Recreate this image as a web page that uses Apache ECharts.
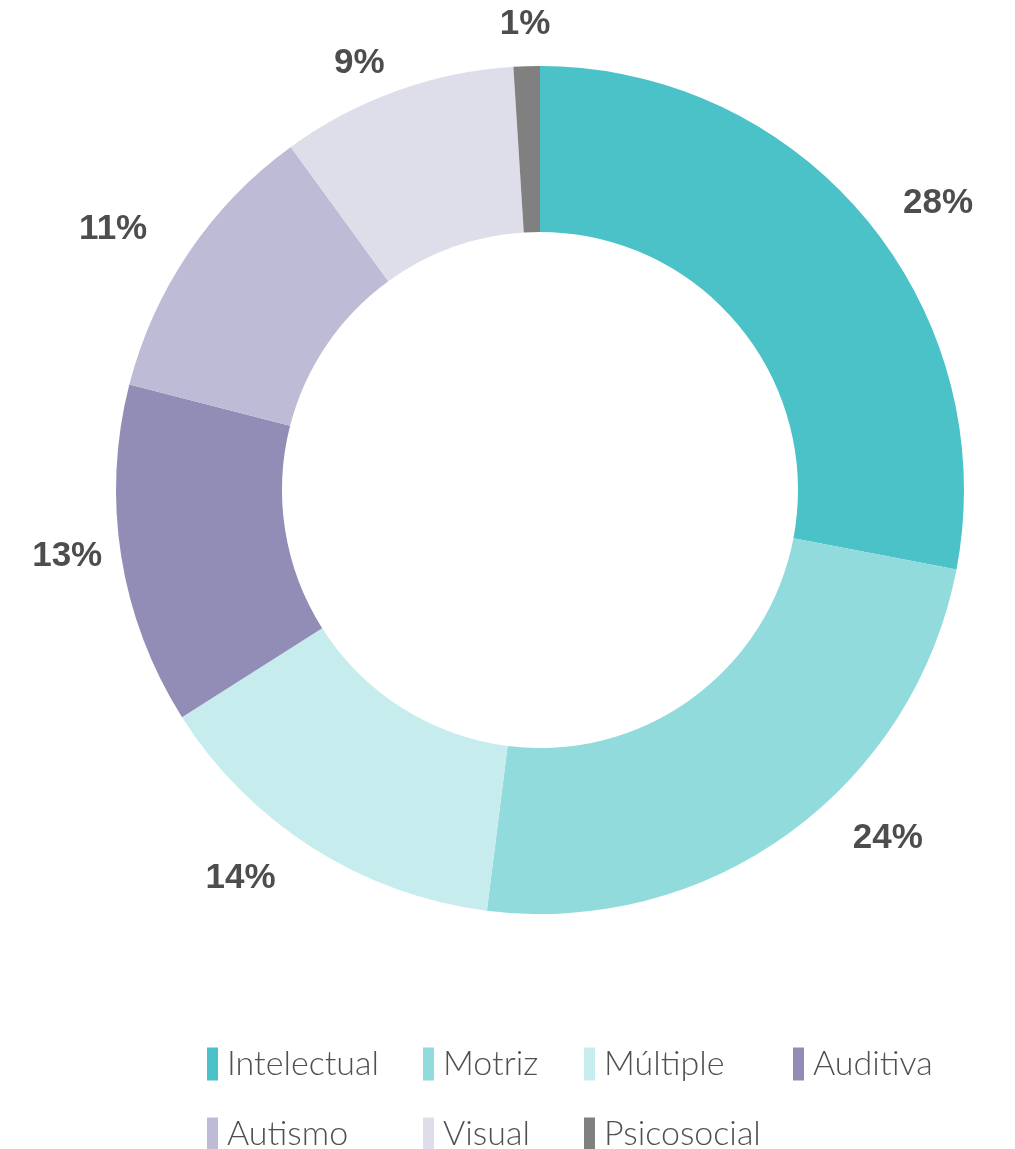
<!DOCTYPE html>
<html>
<head>
<meta charset="utf-8">
<script src="https://cdn.jsdelivr.net/npm/echarts@6/dist/echarts.min.js"></script>
<style>
  html, body { margin: 0; padding: 0; background: #fff; }
  #chart { width: 1015px; height: 1149px; }
</style>
</head>
<body>
<div id="chart"></div>
<script>
const categories = ['Intelectual', 'Motriz', 'Múltiple', 'Auditiva', 'Autismo', 'Visual', 'Psicosocial'];
const shares = [28, 24, 14, 13, 11, 9, 1];
const colors = ['#4AC2C7', '#92DBDD', '#C6ECED', '#928DB7', '#BEBBD7', '#DEDEEA', '#808080'];

// label placement tweaks per slice: [radial length, horizontal length2, bottom padding]
const labelLines = [[25, 12, 0], [6, 55, 0], [36, 13, 0], [0, 14, 10], [40, 4, 0], [29, -3, 0], [42, -30, 0]];

// legend grid: [name, left, top]
const legendSlots = [
  ['Intelectual', 207, 1047], ['Motriz', 423, 1047], ['Múltiple', 584, 1047], ['Auditiva', 793, 1047],
  ['Autismo', 207, 1117], ['Visual', 423, 1117], ['Psicosocial', 584, 1117]
];

const chart = echarts.init(document.getElementById('chart'));

const option = {
  color: colors,
  animation: false,
  legend: legendSlots.map(s => ({
    left: s[1],
    top: s[2],
    padding: 0,
    data: [s[0]],
    icon: 'rect',
    itemWidth: 11,
    itemHeight: 33,
    textStyle: {
      fontFamily: 'Lato',
      fontWeight: 300,
      fontSize: 34,
      color: '#505050',
      padding: [0, 0, 0, 4]
    }
  })),
  series: [
    {
      type: 'pie',
      center: [540, 490],
      radius: [258, 424],
      startAngle: 90,
      clockwise: true,
      avoidLabelOverlap: false,
      label: {
        show: true,
        position: 'outside',
        formatter: '{c}%',
        fontFamily: 'Liberation Sans',
        fontWeight: 'bold',
        fontSize: 35,
        color: '#4D4D4D'
      },
      labelLine: { show: false },
      emphasis: { disabled: true },
      data: categories.map((name, i) => ({
        name: name,
        value: shares[i],
        label: { padding: [0, 0, labelLines[i][2], 0] },
        labelLine: { show: false, length: labelLines[i][0], length2: labelLines[i][1] }
      }))
    }
  ]
};

chart.setOption(option);
</script>
</body>
</html>
